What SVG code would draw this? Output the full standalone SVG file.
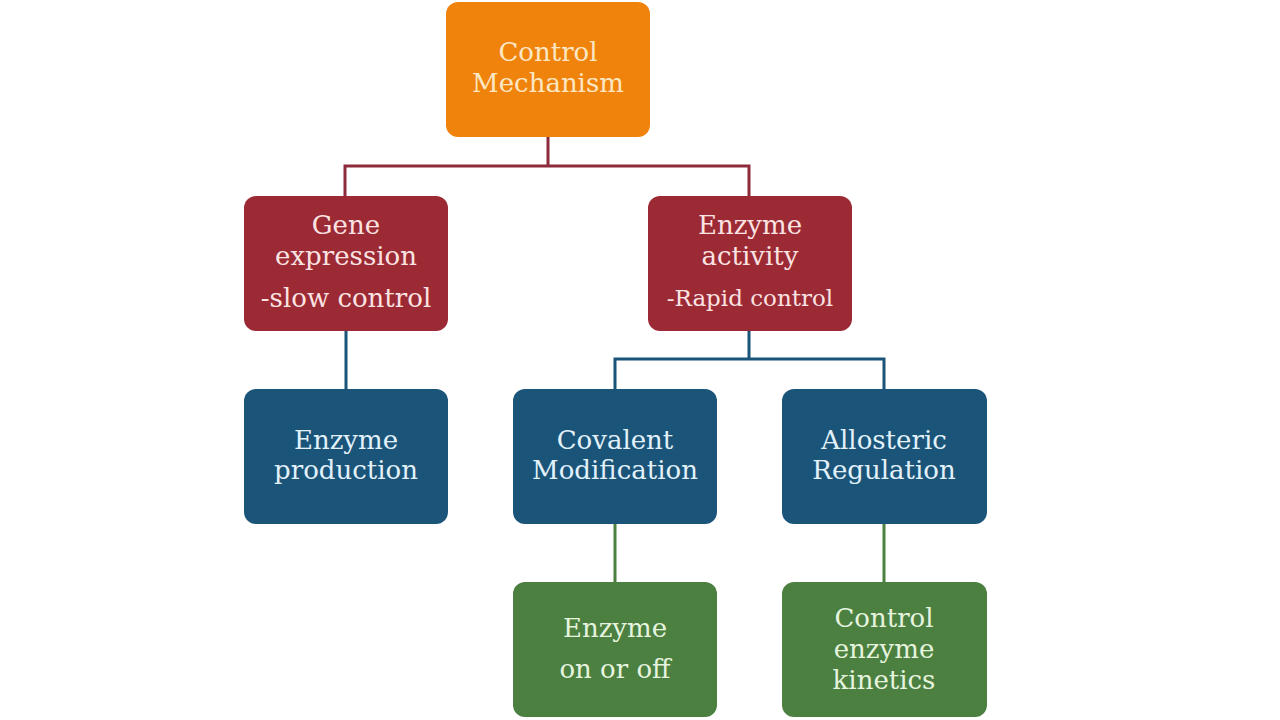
<svg xmlns="http://www.w3.org/2000/svg" width="1280" height="720" viewBox="0 0 1280 720">
<style>
text{font-family:"DejaVu Serif","Liberation Serif",serif;font-size:26px;text-anchor:middle;dominant-baseline:central}
.o rect{fill:#EF830B}
.o text{fill:#FCE7C4}
.r rect{fill:#9C2A34}
.r text{fill:#FBE3E3}
.b rect{fill:#1B5479}
.b text{fill:#E2F1FA}
.g rect{fill:#4B8041}
.g text{fill:#E6F4DF}
.c path{fill:none;stroke-width:3}
</style>
<rect width="1280" height="720" fill="#fff"/>
<g id="connectors" class="c">
<path d="M548 137V166M345 166H750M345 164.5V196M749 164.5V196" stroke="#8E2B3B"/>
<path d="M346 331V389M749 331V359M615 359H885M615 357.5V389M884 357.5V389" stroke="#1B5479"/>
<path d="M615 524V582M884 524V582" stroke="#4B8041"/>
</g>
<g id="control" class="o"><rect x="446" y="2" width="204" height="135" rx="12"/><text x="548" y="52">Control</text><text x="548" y="83">Mechanism</text></g>
<g id="gene" class="r"><rect x="244" y="196" width="204" height="135" rx="12"/><text x="346" y="225">Gene</text><text x="346" y="256">expression</text><text x="346" y="298">-slow control</text></g>
<g id="activity" class="r"><rect x="648" y="196" width="204" height="135" rx="12"/><text x="750" y="225">Enzyme</text><text x="750" y="256">activity</text><text x="750" y="298" style="font-size:23px">-Rapid control</text></g>
<g id="production" class="b"><rect x="244" y="389" width="204" height="135" rx="12"/><text x="346" y="440">Enzyme</text><text x="346" y="470">production</text></g>
<g id="covalent" class="b"><rect x="513" y="389" width="204" height="135" rx="12"/><text x="615" y="440">Covalent</text><text x="615" y="470">Modification</text></g>
<g id="allosteric" class="b"><rect x="782" y="389" width="205" height="135" rx="12"/><text x="884" y="440">Allosteric</text><text x="884" y="470">Regulation</text></g>
<g id="onoff" class="g"><rect x="513" y="582" width="204" height="135" rx="12"/><text x="615" y="628">Enzyme</text><text x="615" y="669">on or off</text></g>
<g id="kinetics" class="g"><rect x="782" y="582" width="205" height="135" rx="12"/><text x="884" y="618">Control</text><text x="884" y="649">enzyme</text><text x="884" y="680">kinetics</text></g>
</svg>
